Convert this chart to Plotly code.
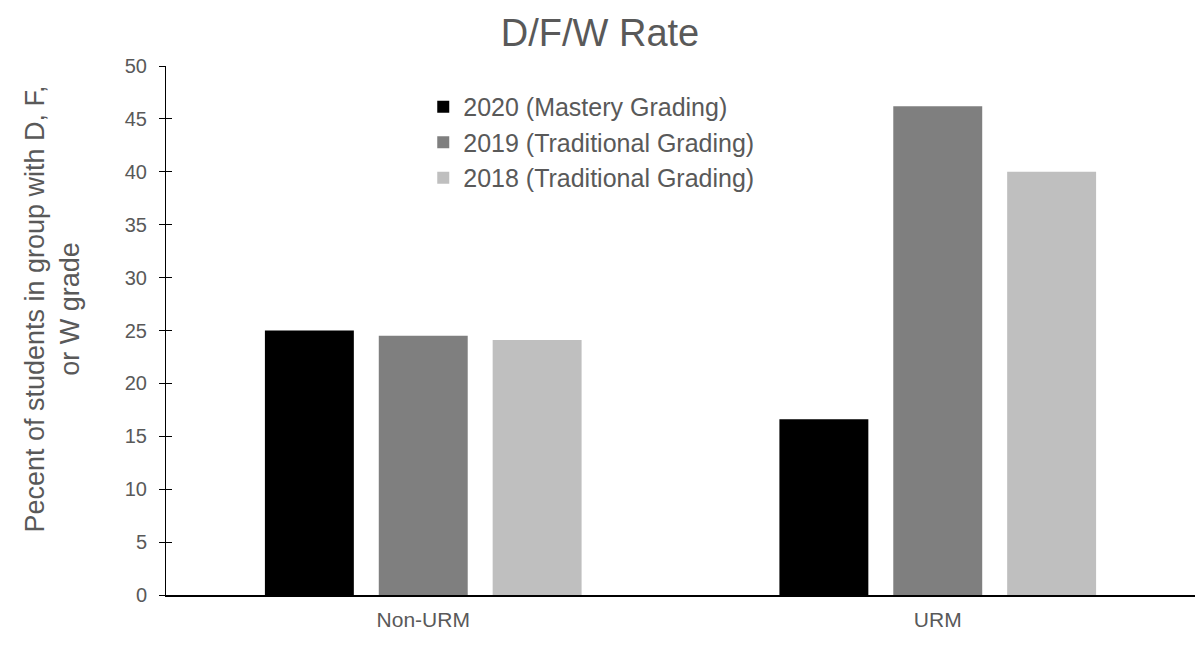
import plotly.graph_objects as go

groups = ["Non-URM", "URM"]
series_names = ["2020 (Mastery Grading)", "2019 (Traditional Grading)", "2018 (Traditional Grading)"]
rate_2020 = [25.0, 16.6]
rate_2019 = [24.5, 46.2]
rate_2018 = [24.1, 40.0]
y_ticks = [0, 5, 10, 15, 20, 25, 30, 35, 40, 45, 50]

colors = ["#000000", "#7f7f7f", "#bfbfbf"]
font_grey = "#595959"

fig = go.Figure()
for name, vals, col in zip(series_names, [rate_2020, rate_2019, rate_2018], colors):
    fig.add_trace(go.Bar(
        x=groups, y=vals, name=name, legendgroup=name,
        marker=dict(color=col, line=dict(width=0)),
    ))

# invisible helper trace so the overlaid axis (inner half of the cross ticks) gets drawn
fig.add_trace(go.Scatter(x=groups, y=[0, 0], yaxis="y2", mode="lines", opacity=0,
                         showlegend=False, hoverinfo="skip"))

fig.update_layout(
    width=1200, height=649,
    margin=dict(l=166, r=5, t=66, b=54),
    paper_bgcolor="white", plot_bgcolor="white",
    font=dict(family="Liberation Sans, Arial, sans-serif", color=font_grey),
    barmode="group", bargap=0.336, bargroupgap=0.219,
    title=dict(text="D/F/W Rate", x=0.5, xanchor="center", y=0.949, yanchor="middle",
               font=dict(size=38, color=font_grey)),
    legend=dict(x=0.25, xanchor="left", y=0.966, yanchor="top",
                font=dict(size=25, color=font_grey), tracegroupgap=0,
                bgcolor="rgba(0,0,0,0)"),
    xaxis=dict(showline=True, linecolor="black", linewidth=1.5, ticks="",
               tickfont=dict(size=21, color=font_grey), showgrid=False,
               range=[-0.5, 1.5], ticklabelstandoff=5),
    yaxis=dict(range=[0, 50], tickvals=y_ticks, showline=True, linecolor="black",
               linewidth=1, ticks="outside", ticklen=6, tickcolor="black",
               tickfont=dict(size=20, color=font_grey), showgrid=False,
               ticklabelstandoff=8, zeroline=False),
    yaxis2=dict(overlaying="y", side="left", anchor="x", range=[0, 50], tickvals=y_ticks,
                ticks="inside", ticklen=6, tickwidth=1, tickcolor="black", showticklabels=False,
                showline=False, showgrid=False, zeroline=False, layer="above traces"),
    annotations=[dict(
        text="Pecent of students in group with D, F,<br>or W grade",
        xref="paper", yref="paper", x=-0.11, y=0.541, xanchor="center", yanchor="middle",
        textangle=-90, showarrow=False, font=dict(size=27, color=font_grey),
    )],
)

fig.write_html("out.html", config={"displayModeBar": False},
               post_script="document.body.style.margin='0';")
